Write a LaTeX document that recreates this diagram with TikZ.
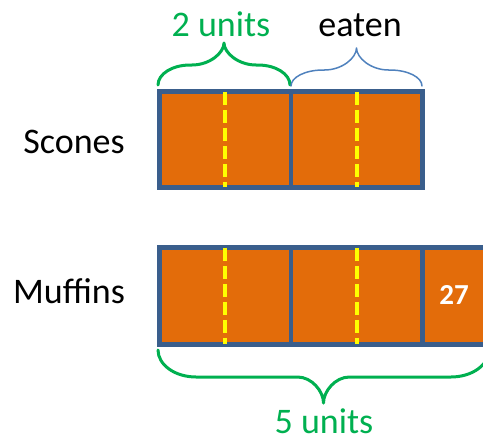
\documentclass[tikz,border=0pt]{standalone}
\usepackage{fontspec}
\setmainfont{Carlito}
\definecolor{bordc}{HTML}{3A5E8C}
\definecolor{orng}{HTML}{E36C0A}
\definecolor{grn}{HTML}{00B050}
\definecolor{bluebr}{HTML}{4F81BD}
\definecolor{yel}{HTML}{FFFF00}
% brace path: L R B(end y) M(middle y) T(tip y) r1 r2
\newcommand\mybrace[7]{%
 (#1,#3) .. controls (#1,{#3+0.552*(#4-#3)}) and ({#1+0.448*#6},#4) .. ({#1+#6},#4)
 -- ({(#1+#2)/2-#7},#4) .. controls ({(#1+#2)/2-0.448*#7},#4) and ({(#1+#2)/2},{#4+0.552*(#5-#4)}) .. ({(#1+#2)/2},#5)
 .. controls ({(#1+#2)/2},{#4+0.552*(#5-#4)}) and ({(#1+#2)/2+0.448*#7},#4) .. ({(#1+#2)/2+#7},#4)
 -- ({#2-#6},#4) .. controls ({#2-0.448*#6},#4) and (#2,{#3+0.552*(#4-#3)}) .. (#2,#3)}
\begin{document}
\begin{tikzpicture}[x=1pt,y=-1pt,
  cell/.style={draw=bordc, line width=4.5pt, fill=orng, inner sep=0pt, minimum height=96pt},
  ydash/.style={draw=yel, line width=4pt, dash pattern=on 13pt off 5pt, shorten <=2.5pt, shorten >=2.5pt},
  lbl/.style={font=\fontsize{36}{40}\selectfont, anchor=base, inner sep=0pt},
  brc/.style={line cap=round, line join=round}]
\useasboundingbox (0,0) rectangle (483,439);
\clip (0,0) rectangle (483,439);
% Scones
\node[cell, minimum width=131.5pt] (s1) at (225.25,139.5) {};
\node[cell, minimum width=131.5pt] (s2) at (356.75,139.5) {};
\draw[ydash] (s1.north) -- (s1.south);
\draw[ydash] (s2.north) -- (s2.south);
% Muffins
\node[cell, minimum width=131.5pt, minimum height=97pt] (m1) at (225.25,296) {};
\node[cell, minimum width=131.5pt, minimum height=97pt] (m2) at (356.75,296) {};
\node[cell, minimum width=137.5pt, minimum height=97pt] (m3) at (491.25,296) {};
\draw[ydash] (m1.north) -- (m1.south);
\draw[ydash] (m2.north) -- (m2.south);
\node[font=\fontsize{29}{32}\selectfont\bfseries, text=white, anchor=base, inner sep=0pt] (n27) at (454,304) {27};
% labels
\node[lbl, text=grn] (t2u) at (221,37) {2 units};
\node[lbl] (teat) at (360,37) {eaten};
\node[lbl] (tsc) at (74,153) {Scones};
\node[lbl] (tmu) at (69,303) {Muffins};
\node[lbl, text=grn] (t5u) at (324,433) {5 units};
% braces
\draw[brc, grn, line width=3pt] \mybrace{158}{290}{85}{65}{43}{32}{32};
\draw[brc, bluebr, line width=1.5pt] \mybrace{291}{422}{86}{70}{48}{32}{32};
\draw[brc, grn, line width=3pt] \mybrace{158}{489}{350}{377}{403}{38}{26};
\end{tikzpicture}
\end{document}
